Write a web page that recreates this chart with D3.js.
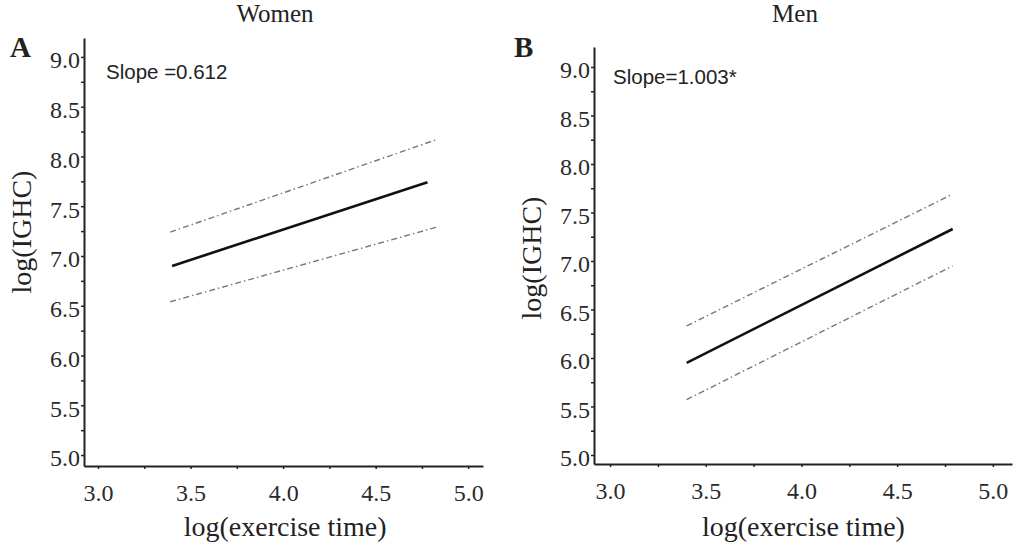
<!DOCTYPE html>
<html>
<head>
<meta charset="utf-8">
<script src="https://cdn.jsdelivr.net/npm/d3@7"></script>
<style>
  body { margin: 0; background: #fff; }
  svg { display: block; }
  .axis path { stroke: #222; stroke-width: 2; }
  .axis line { stroke: #222; stroke-width: 1.5; }
  .axis text { font-family: "Liberation Serif", "Times New Roman", serif; font-size: 24px; fill: #2a2a2a; }
  .title { font-family: "Liberation Serif", "Times New Roman", serif; fill: #222; }
</style>
</head>
<body>
<svg width="1013" height="546"></svg>
<script>
// tick values shared by both panels
var xTicks = [3.0, 3.25, 3.5, 3.75, 4.0, 4.25, 4.5, 4.75, 5.0];
var yTicks = [5.0, 5.25, 5.5, 5.75, 6.0, 6.25, 6.5, 6.75, 7.0, 7.25, 7.5, 7.75, 8.0, 8.25, 8.5, 8.75, 9.0];

// panel A (women): fitted line and dash-dot confidence band
var womenFitX = [3.40, 4.78];
var womenFitY = [6.90, 7.74];
var womenUpperX = [3.39, 4.83];
var womenUpperY = [7.24, 8.17];
var womenLowerX = [3.39, 4.83];
var womenLowerY = [6.54, 7.29];

// panel B (men)
var menFitX = [3.40, 4.79];
var menFitY = [5.95, 7.33];
var menUpperX = [3.40, 4.79];
var menUpperY = [6.33, 7.69];
var menLowerX = [3.40, 4.79];
var menLowerY = [5.57, 6.95];

var svg = d3.select("svg");

function zip(xs, ys) {
  return xs.map(function(v, i) { return { x: v, y: ys[i] }; });
}

function drawPanel(opt) {
  var x = d3.scaleLinear().domain(opt.xDomain).range(opt.xRange);
  var y = d3.scaleLinear().domain(opt.yDomain).range(opt.yRange);

  var fmt = function(d) { return (d * 2) % 1 === 0 ? d.toFixed(1) : ""; };

  var xAxis = d3.axisBottom(x).tickValues(xTicks).tickFormat(fmt)
      .tickSize(3).tickSizeOuter(0).tickPadding(24);
  var yAxis = d3.axisLeft(y).tickValues(yTicks).tickFormat(fmt)
      .tickSize(3).tickSizeOuter(0).tickPadding(1);

  var gx = svg.append("g")
      .attr("class", "axis")
      .attr("transform", "translate(0," + opt.yRange[0] + ")")
      .call(xAxis);
  gx.selectAll("text").attr("dy", "0.35em");

  var gy = svg.append("g")
      .attr("class", "axis")
      .attr("transform", "translate(" + opt.xRange[0] + ",0)")
      .call(yAxis);
  gy.selectAll("text").attr("dy", "0.45em");

  var line = d3.line()
      .x(function(d) { return x(d.x); })
      .y(function(d) { return y(d.y); });

  [opt.upper, opt.lower].forEach(function(band) {
    svg.append("path")
        .datum(band)
        .attr("d", line)
        .attr("fill", "none")
        .attr("stroke", "#777")
        .attr("stroke-width", 1.4)
        .attr("stroke-dasharray", "6,3,1.5,3");
  });

  svg.append("path")
      .datum(opt.fit)
      .attr("d", line)
      .attr("fill", "none")
      .attr("stroke", "#111")
      .attr("stroke-width", 2.6);

  svg.append("text")
      .attr("class", "title")
      .attr("x", opt.titleX).attr("y", 22)
      .attr("text-anchor", "middle")
      .style("font-size", "25px")
      .text(opt.title);

  svg.append("text")
      .attr("class", "title")
      .attr("x", opt.letterX).attr("y", 57)
      .style("font-size", "29px")
      .style("font-weight", "bold")
      .text(opt.letter);

  svg.append("text")
      .attr("x", opt.slopeX).attr("y", opt.slopeY)
      .style("font-family", "'Liberation Sans', Arial, sans-serif")
      .style("font-size", "20.5px")
      .attr("fill", "#222")
      .text(opt.slope);

  svg.append("text")
      .attr("class", "title")
      .attr("x", (x(3) + x(5)) / 2 + 2).attr("y", 536)
      .attr("text-anchor", "middle")
      .style("font-size", "28px")
      .text("log(exercise time)");

  svg.append("text")
      .attr("class", "title")
      .attr("transform", "translate(" + opt.yTitleX + "," + opt.yTitleY + ") rotate(-90)")
      .attr("text-anchor", "middle")
      .style("font-size", "28px")
      .text("log(IGHC)");
}

drawPanel({
  xDomain: [2.924, 5.08], xRange: [84, 483],
  yDomain: [4.89, 9.19], yRange: [466, 38],
  fit: zip(womenFitX, womenFitY),
  upper: zip(womenUpperX, womenUpperY),
  lower: zip(womenLowerX, womenLowerY),
  title: "Women", titleX: 275,
  letter: "A", letterX: 10,
  slope: "Slope =0.612", slopeX: 106, slopeY: 79,
  yTitleX: 31, yTitleY: 232
});

drawPanel({
  xDomain: [2.916, 5.10], xRange: [594, 1012],
  yDomain: [4.907, 9.206], yRange: [464, 47],
  fit: zip(menFitX, menFitY),
  upper: zip(menUpperX, menUpperY),
  lower: zip(menLowerX, menLowerY),
  title: "Men", titleX: 795,
  letter: "B", letterX: 514,
  slope: "Slope=1.003*", slopeX: 613, slopeY: 84,
  yTitleX: 541, yTitleY: 258
});
</script>
</body>
</html>
